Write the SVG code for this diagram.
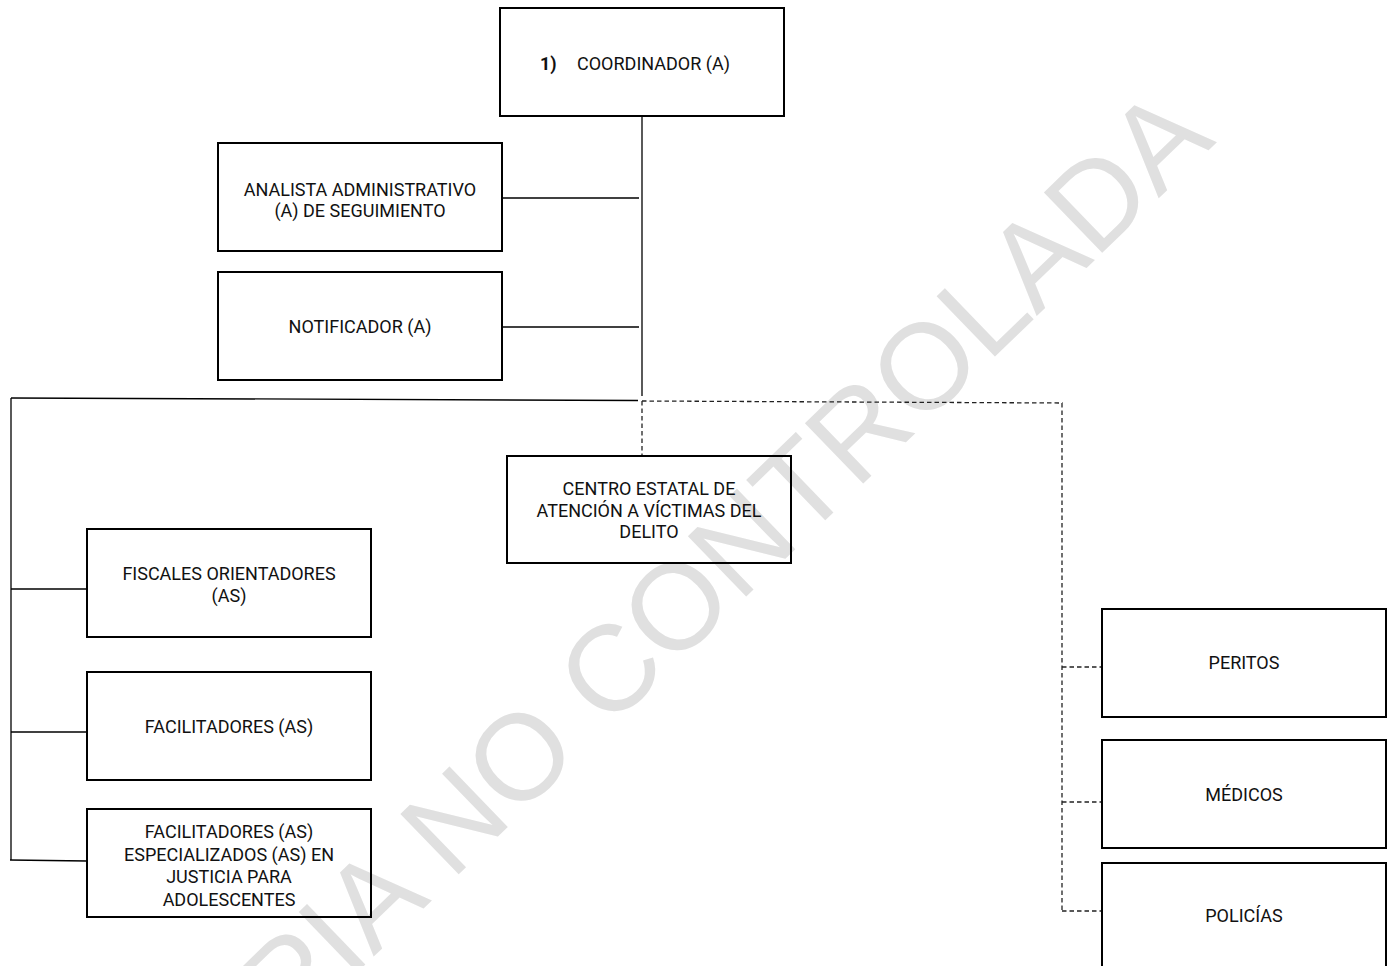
<svg xmlns="http://www.w3.org/2000/svg" width="1393" height="966" viewBox="0 0 1393 966">
<style>
.box{fill:none;stroke:#000;stroke-width:2}
.lbl{font-family:Roboto,"Liberation Sans",sans-serif;font-size:18px;fill:#111;text-anchor:middle}
.solid{fill:none;stroke:#000;stroke-width:1.3}
.dash{fill:none;stroke:#222;stroke-width:1.3;stroke-dasharray:4.5 3}
.wm{font-family:"Liberation Sans",Arial,sans-serif;font-size:122px;fill:#e0e0e0}
</style>
<rect width="1393" height="966" fill="#fff"/>
<text class="wm" x="1217" y="142" text-anchor="end" transform="rotate(-44 1217 142)">COPIA NO CONTROLADA</text>
<g id="connectors">
<path class="solid" d="M642,116 V396"/>
<path class="solid" d="M502,198 H639"/>
<path class="solid" d="M502,327 H639"/>
<path class="solid" d="M11,398 L638,400.5"/>
<path class="solid" d="M11,398 V860"/>
<path class="solid" d="M11,589 H87"/>
<path class="solid" d="M11,732 H87"/>
<path class="solid" d="M10,860 L87,861"/>
<path class="dash" d="M642,401 L1062,403 V911"/>
<path class="dash" d="M642,401 V455"/>
<path class="dash" d="M1062,667 H1102"/>
<path class="dash" d="M1062,802 H1102"/>
<path class="dash" d="M1062,911 H1102"/>
</g>
<g id="coordinador">
<rect class="box" x="500" y="8" width="284" height="108"/>
<text class="lbl" x="540" y="70" style="text-anchor:start;font-weight:bold">1)</text>
<text class="lbl" x="577" y="70" style="text-anchor:start">COORDINADOR (A)</text>
</g>
<g id="analista">
<rect class="box" x="218" y="143" width="284" height="108"/>
<text class="lbl" x="360" y="196">ANALISTA ADMINISTRATIVO</text>
<text class="lbl" x="360" y="217">(A) DE SEGUIMIENTO</text>
</g>
<g id="notificador">
<rect class="box" x="218" y="272" width="284" height="108"/>
<text class="lbl" x="360" y="333">NOTIFICADOR (A)</text>
</g>
<g id="centro">
<rect class="box" x="507" y="456" width="284" height="107"/>
<text class="lbl" x="649" y="495">CENTRO ESTATAL DE</text>
<text class="lbl" x="649" y="516.5">ATENCIÓN A VÍCTIMAS DEL</text>
<text class="lbl" x="649" y="538">DELITO</text>
</g>
<g id="fiscales">
<rect class="box" x="87" y="529" width="284" height="108"/>
<text class="lbl" x="229" y="580">FISCALES ORIENTADORES</text>
<text class="lbl" x="229" y="602">(AS)</text>
</g>
<g id="facilitadores">
<rect class="box" x="87" y="672" width="284" height="108"/>
<text class="lbl" x="229" y="733">FACILITADORES (AS)</text>
</g>
<g id="facilitadores-especializados">
<rect class="box" x="87" y="809" width="284" height="108"/>
<text class="lbl" x="229" y="838">FACILITADORES (AS)</text>
<text class="lbl" x="229" y="861">ESPECIALIZADOS (AS) EN</text>
<text class="lbl" x="229" y="883">JUSTICIA PARA</text>
<text class="lbl" x="229" y="906">ADOLESCENTES</text>
</g>
<g id="peritos">
<rect class="box" x="1102" y="609" width="284" height="108"/>
<text class="lbl" x="1244" y="669">PERITOS</text>
</g>
<g id="medicos">
<rect class="box" x="1102" y="740" width="284" height="108"/>
<text class="lbl" x="1244" y="801">MÉDICOS</text>
</g>
<g id="policias">
<rect class="box" x="1102" y="863" width="284" height="120"/>
<text class="lbl" x="1244" y="922">POLICÍAS</text>
</g>
</svg>
